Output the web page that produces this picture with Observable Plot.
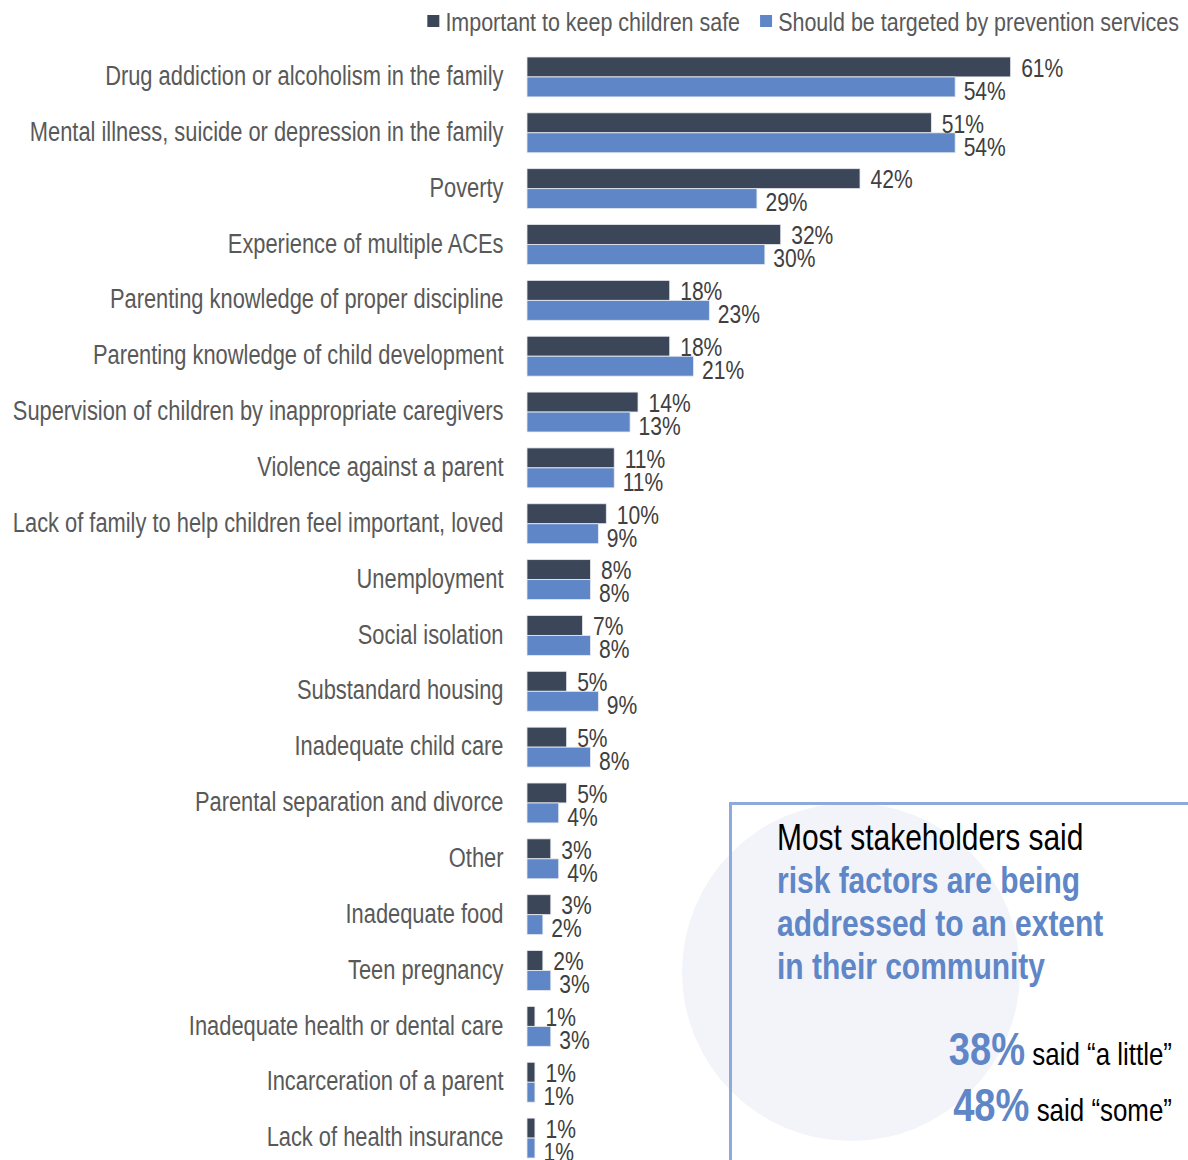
<!DOCTYPE html>
<html>
<head>
<meta charset="utf-8">
<script src="https://cdn.jsdelivr.net/npm/d3@7"></script>
<script src="https://cdn.jsdelivr.net/npm/@observablehq/plot@0.6"></script>
<style>
  html, body { margin: 0; padding: 0; background: #fff; }
  #wrap { position: relative; width: 1188px; height: 1160px; overflow: hidden;
          font-family: "Liberation Sans", Arial, sans-serif; }
  #chart { position: absolute; left: 0; top: 0; }
  #overlay { position: absolute; left: 0; top: 0; pointer-events: none; }
</style>
</head>
<body>
<div id="wrap">
  <div id="chart"></div>
  <svg id="overlay" width="1188" height="1160"></svg>
</div>
<script>
const categories = [
  "Drug addiction or alcoholism in the family",
  "Mental illness, suicide or depression in the family",
  "Poverty",
  "Experience of multiple ACEs",
  "Parenting knowledge of proper discipline",
  "Parenting knowledge of child development",
  "Supervision of children by inappropriate caregivers",
  "Violence against a parent",
  "Lack of family to help children feel important, loved",
  "Unemployment",
  "Social isolation",
  "Substandard housing",
  "Inadequate child care",
  "Parental separation and divorce",
  "Other",
  "Inadequate food",
  "Teen pregnancy",
  "Inadequate health or dental care",
  "Incarceration of a parent",
  "Lack of health insurance"
];
const keepSafe =  [61, 51, 42, 32, 18, 18, 14, 11, 10, 8, 7, 5, 5, 5, 3, 3, 2, 1, 1, 1];
const targeted =  [54, 54, 29, 30, 23, 21, 13, 11, 9, 8, 8, 9, 8, 4, 4, 2, 3, 3, 1, 1];
const seriesNames = ["Important to keep children safe", "Should be targeted by prevention services"];
const seriesColors = ["#3b4659", "#5f86c6"];
const insetHead = "Most stakeholders said";
const insetLines = ["risk factors are being", "addressed to an extent", "in their community"];
const insetStats = [
  {pct: "38%", phrase: "said \u201ca little\u201d"},
  {pct: "48%", phrase: "said \u201csome\u201d"}
];

const FONT = '"Liberation Sans", Arial, sans-serif';
const NARROW = 0.81; // horizontal squeeze to imitate a narrow typeface

// squeeze every text element horizontally about its own anchor point
function narrow(root, s) {
  const isNum = v => v != null && v !== "" && !isNaN(+v);
  root.querySelectorAll("text").forEach(el => {
    const t = el.getAttribute("transform") || "";
    let x = el.getAttribute("x"), y = el.getAttribute("y");
    let tx = 0, ty = 0;
    if (isNum(x)) { tx = +x; el.removeAttribute("x"); }
    if (isNum(y)) { ty = +y; el.removeAttribute("y"); }
    el.setAttribute("transform", `${t} translate(${tx},${ty}) scale(${s},1)`);
  });
}

const rows = categories.map((c, i) => ({cat: c, a: keepSafe[i], b: targeted[i]}));

const chart = Plot.plot({
  width: 1188,
  height: 1160,
  marginTop: 57,
  marginBottom: 2,
  marginLeft: 527,
  marginRight: 106,
  style: {fontFamily: FONT, background: "transparent", overflow: "visible"},
  x: {domain: [0, 70], axis: null},
  y: {domain: categories, paddingInner: 0.2857, paddingOuter: 0, round: false, label: null},
  marks: [
    Plot.axisY({tickSize: 0, tickPadding: 24, fontSize: 27, fill: "#595959", label: null,
                textAnchor: "end", dy: -1}),
    Plot.barX(rows, {y: "cat", x: "a", fill: seriesColors[0], insetBottom: 20, stroke: "#e6e9ef", strokeWidth: 0.8}),
    Plot.barX(rows, {y: "cat", x: "b", fill: seriesColors[1], insetTop: 20, stroke: "#e6e9ef", strokeWidth: 0.8}),
    Plot.text(rows, {y: "cat", x: "a", text: d => d.a + "%", dx: 10, dy: -9, textAnchor: "start",
                     fontSize: 26, fill: "#404040"}),
    Plot.text(rows, {y: "cat", x: "b", text: d => d.b + "%", dx: 8, dy: 14, textAnchor: "start",
                     fontSize: 26, fill: "#404040"})
  ]
});
document.getElementById("chart").appendChild(chart);
narrow(chart, NARROW);

const svg = d3.select("#overlay");

// legend (right-aligned at the top)
const lg = svg.append("g").attr("font-family", FONT).attr("font-size", 26.5).attr("fill", "#595959");
let xEnd = 1179;
for (let i = seriesNames.length - 1; i >= 0; i--) {
  const tx = lg.append("text").attr("x", xEnd).attr("y", 31).attr("text-anchor", "end").text(seriesNames[i]);
  const w = tx.node().getComputedTextLength() * NARROW;
  const sq = xEnd - w - 18;
  lg.append("rect").attr("x", sq).attr("y", 15).attr("width", 12).attr("height", 12).attr("fill", seriesColors[i]);
  xEnd = sq - 20;
}

// inset callout
svg.append("circle").attr("cx", 851).attr("cy", 972).attr("r", 169).attr("fill", "#f3f4fa");
svg.append("path").attr("d", "M730.5,1160 V803.5 H1188").attr("fill", "none")
   .attr("stroke", "#8eaadc").attr("stroke-width", 3);
const t = svg.append("g").attr("font-family", FONT);
t.append("text").attr("x", 777).attr("y", 850).attr("font-size", 37).attr("fill", "#000").text(insetHead);
insetLines.forEach((line, i) => {
  t.append("text").attr("x", 777).attr("y", 893 + i * 43).attr("font-size", 37)
    .attr("font-weight", "bold").attr("fill", "#5f86c6").text(line);
});
insetStats.forEach((s, i) => {
  const y = 1065 + i * 56;
  const g = t.append("text").attr("x", 1172).attr("y", y).attr("text-anchor", "end");
  g.append("tspan").attr("font-size", 47).attr("font-weight", "bold").attr("fill", "#5f86c6").text(s.pct);
  g.append("tspan").attr("font-size", 32).attr("fill", "#000").attr("dx", 9).text(s.phrase);
});
narrow(document.getElementById("overlay"), NARROW);
</script>
</body>
</html>
